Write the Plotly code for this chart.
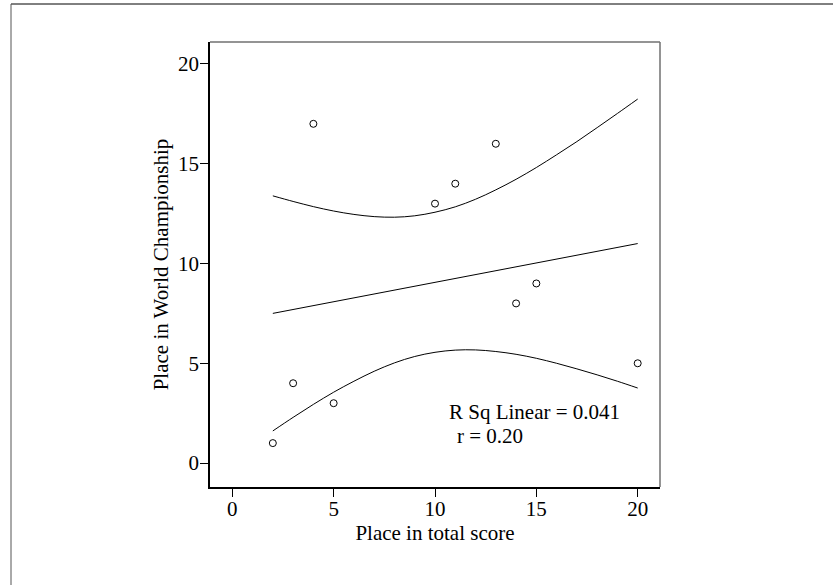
import plotly.graph_objects as go

# Observed data points
place_total = [2, 3, 4, 5, 10, 11, 13, 14, 15, 20]
place_world = [1, 4, 17, 3, 13, 14, 16, 8, 9, 5]

# Fit line end points
fit_x = [2, 20]
fit_y = [7.50, 11.00]

# Confidence band curves
band_x = [2, 3, 4, 5, 6, 7, 8, 9, 10, 11, 12, 13, 14, 15, 16, 17, 18, 19, 20]
band_upper = [13.39, 13.11, 12.85, 12.63, 12.46, 12.35, 12.32, 12.39, 12.57, 12.84,
              13.22, 13.69, 14.22, 14.81, 15.45, 16.11, 16.81, 17.52, 18.24]
band_lower = [1.61, 2.29, 2.94, 3.55, 4.10, 4.60, 5.02, 5.34, 5.55, 5.66,
              5.67, 5.59, 5.45, 5.25, 5.00, 4.72, 4.42, 4.10, 3.76]

x_ticks = [0, 5, 10, 15, 20]
y_ticks = [0, 5, 10, 15, 20]

FONT = "Liberation Serif, Times New Roman, serif"
FS = 21

fig = go.Figure()
fig.add_trace(go.Scatter(x=band_x, y=band_upper, mode="lines", line=dict(color="black", width=1, shape="spline"),
                         hoverinfo="skip", showlegend=False))
fig.add_trace(go.Scatter(x=band_x, y=band_lower, mode="lines", line=dict(color="black", width=1, shape="spline"),
                         hoverinfo="skip", showlegend=False))
fig.add_trace(go.Scatter(x=fit_x, y=fit_y, mode="lines", line=dict(color="black", width=1),
                         showlegend=False))
fig.add_trace(go.Scatter(x=place_total, y=place_world, mode="markers",
                         marker=dict(symbol="circle-open", size=7, color="black", line=dict(width=1)),
                         showlegend=False))

fig.add_annotation(x=10.6, y=2.55, xref="x", yref="y", text="R Sq Linear = 0.041", showarrow=False,
                   xanchor="left", yanchor="middle", font=dict(family=FONT, size=FS, color="black"))
fig.add_annotation(x=11.0, y=1.35, xref="x", yref="y", text="r = 0.20", showarrow=False,
                   xanchor="left", yanchor="middle", font=dict(family=FONT, size=FS, color="black"))

# gray top/right plot frame
fig.add_shape(type="line", xref="paper", yref="paper", x0=0, x1=1, y0=1, y1=1, line=dict(color="#707070", width=1.5))
fig.add_shape(type="line", xref="paper", yref="paper", x0=1, x1=1, y0=0, y1=1, line=dict(color="#707070", width=1.5))
# outer image frame (top and left)
fig.add_shape(type="line", xref="paper", yref="paper", x0=-199/450, x1=623/450, y0=1+38/445, y1=1+38/445,
              line=dict(color="black", width=1))
fig.add_shape(type="line", xref="paper", yref="paper", x0=-199/450, x1=-199/450, y0=1+38/445, y1=-98/445,
              line=dict(color="#555", width=1))

fig.update_layout(
    width=833, height=585,
    margin=dict(l=210, r=173, t=42, b=98),
    paper_bgcolor="white", plot_bgcolor="white",
    font=dict(family=FONT, size=FS, color="black"),
    xaxis=dict(range=[-1.1, 21.1], tickvals=x_ticks, ticks="outside", ticklen=8, tickcolor="black",
               showline=True, linecolor="black", linewidth=1.5, showgrid=False, zeroline=False,
               ticklabelstandoff=-6,
               title=dict(text="Place in total score", font=dict(size=FS), standoff=4),
               tickfont=dict(size=FS)),
    yaxis=dict(range=[-1.2, 21.1], tickvals=y_ticks, ticks="outside", ticklen=8, tickcolor="black",
               showline=True, linecolor="black", linewidth=1.5, showgrid=False, zeroline=False,
               ticklabelstandoff=-3,
               title=dict(text="Place in World Championship", font=dict(size=FS), standoff=4),
               tickfont=dict(size=FS)),
)

fig.write_html("out.html", config={"displayModeBar": False},
               post_script="document.body.style.margin='0';document.body.style.overflow='hidden';")
